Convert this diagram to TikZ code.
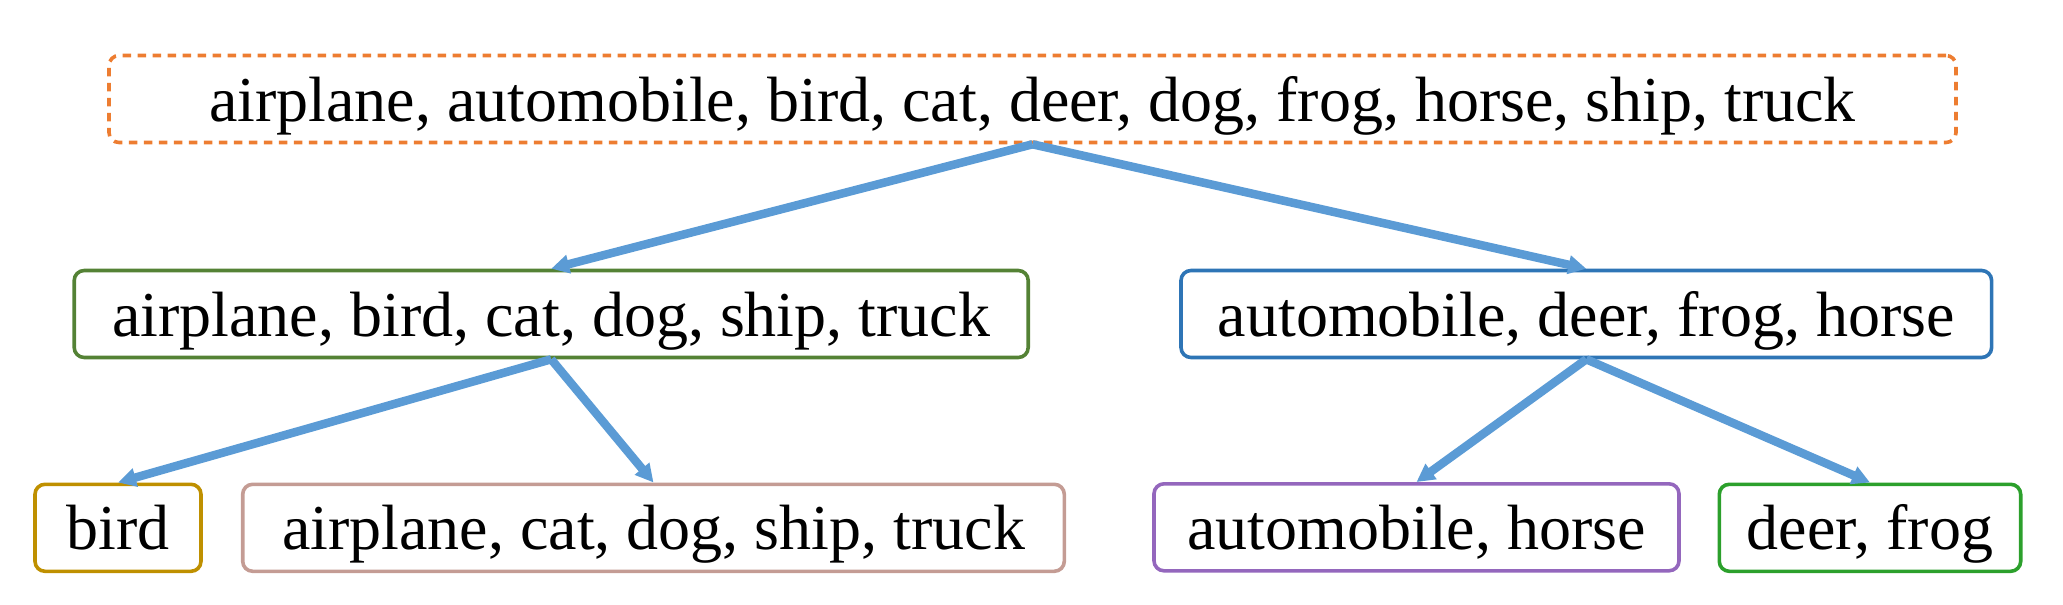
\documentclass[tikz,border=0pt]{standalone}
\usepackage{fontspec}
\setmainfont{Liberation Serif}
\usetikzlibrary{arrows.meta}
\definecolor{corange}{HTML}{ED7D31}
\definecolor{cgreenA}{HTML}{548235}
\definecolor{cblueA}{HTML}{2E75B6}
\definecolor{cgold}{HTML}{BF9000}
\definecolor{cpink}{HTML}{C49C94}
\definecolor{cpurple}{HTML}{9467BD}
\definecolor{cgreenB}{HTML}{2CA02C}
\definecolor{carrow}{HTML}{5B9BD5}
\begin{document}
\begin{tikzpicture}[x=0.5pt,y=-0.5pt,
  box/.style={draw, rounded corners=5pt, line width=1.8pt, inner sep=0pt,
    minimum height=43.5pt, text height=22pt, text depth=0pt,
    font=\fontsize{32}{38}\selectfont},
  link/.style={draw=carrow, line width=4.25pt, -{Triangle[width=9pt,length=9pt]}}]
\useasboundingbox (0,0) rectangle (2063,605);
\node[box, draw=corange, dashed, dash pattern=on 4.25pt off 3.25pt, minimum width=923.5pt] (root) at (1032.5,99)
  {airplane, automobile, bird, cat, deer, dog, frog, horse, ship, truck};
\node[box, draw=cgreenA, minimum width=477pt] (left) at (551.2,314)
  {airplane, bird, cat, dog, ship, truck};
\node[box, draw=cblueA, minimum width=405.3pt] (right) at (1586.3,314)
  {automobile, deer, frog, horse};
\node[box, draw=cgold, minimum width=83pt] (bird) at (118,527.8) {bird};
\node[box, draw=cpink, minimum width=410.8pt] (rest) at (653.5,527.8)
  {airplane, cat, dog, ship, truck};
\node[box, draw=cpurple, minimum width=262.5pt] (autohorse) at (1416.5,527.3)
  {automobile, horse};
\node[box, draw=cgreenB, minimum width=150.7pt] (deerfrog) at (1870,527.8)
  {deer, frog};
\draw[link] (root.south) -- (left.north);
\draw[link] (root.south) -- (right.north);
\draw[link] (left.south) -- (bird.north);
\draw[link] (left.south) -- (rest.north);
\draw[link] (right.south) -- (autohorse.north);
\draw[link] (right.south) -- (deerfrog.north);
\end{tikzpicture}
\end{document}
